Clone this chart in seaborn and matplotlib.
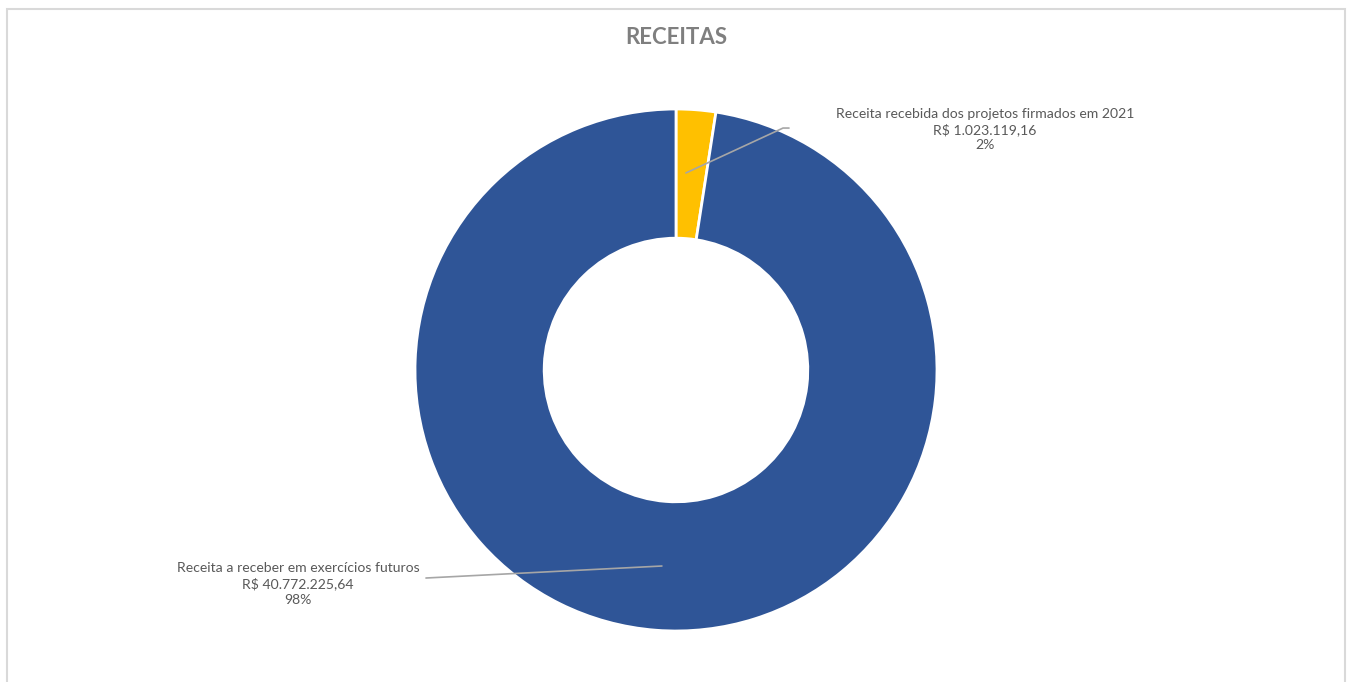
import matplotlib.pyplot as plt
import matplotlib.patches as mpatches
import seaborn as sns

categorias = ['Receita recebida dos projetos firmados em 2021',
              'Receita a receber em exercícios futuros']
valores = [1023119.16, 40772225.64]
cores = ['#FFC000', '#2F5597']

sns.set_theme(style='white')
plt.rcParams['font.family'] = ['Lato', 'DejaVu Sans']

W, H = 1349, 682
fig = plt.figure(figsize=(W / 100, H / 100), dpi=100)

# moldura do gráfico (estilo Excel)
moldura = mpatches.Rectangle((7 / W, -0.05), (1345 - 7) / W, (H - 9) / H + 0.05,
                             transform=fig.transFigure, fill=False,
                             edgecolor='#D9D9D9', linewidth=1.5)
fig.patches.append(moldura)

cx, cy, r = 676, 370, 261
ax = fig.add_axes([(cx - r) / W, (H - cy - r) / H, 2 * r / W, 2 * r / H])
ax.pie(valores, colors=cores, startangle=90, counterclock=False, radius=1,
       wedgeprops=dict(width=0.495, edgecolor='white', linewidth=2))
ax.set_xlim(-1, 1)
ax.set_ylim(-1, 1)
ax.set_aspect('equal')
ax.axis('off')

total = sum(valores)


def fmt_real(v):
    s = f'{v:,.2f}'
    return 'R$ ' + s.replace(',', 'X').replace('.', ',').replace('X', '.')


textos = [f'{c}\n{fmt_real(v)}\n{round(100 * v / total):.0f}%'
          for c, v in zip(categorias, valores)]

# rótulo 1
ax.plot([0.038, 0.41, 0.433], [0.755, 0.927, 0.927], color='#A6A6A6', lw=1.2, clip_on=False)
ax.text(1.184, 0.922, textos[0], ha='center', va='center', fontsize=10.1,
        color='#595959', linespacing=1.3, clip_on=False)

# rótulo 2
ax.plot([-0.958, -0.054], [-0.797, -0.751], color='#A6A6A6', lw=1.2, clip_on=False)
ax.text(-1.448, -0.82, textos[1], ha='center', va='center', fontsize=10.1,
        color='#595959', linespacing=1.3, clip_on=False)

fig.text(cx / W, 1 - 37 / H, 'RECEITAS', ha='center', va='center',
         fontsize=16, fontweight='bold', color='#7F7F7F')

plt.savefig('out.png', dpi=100)
